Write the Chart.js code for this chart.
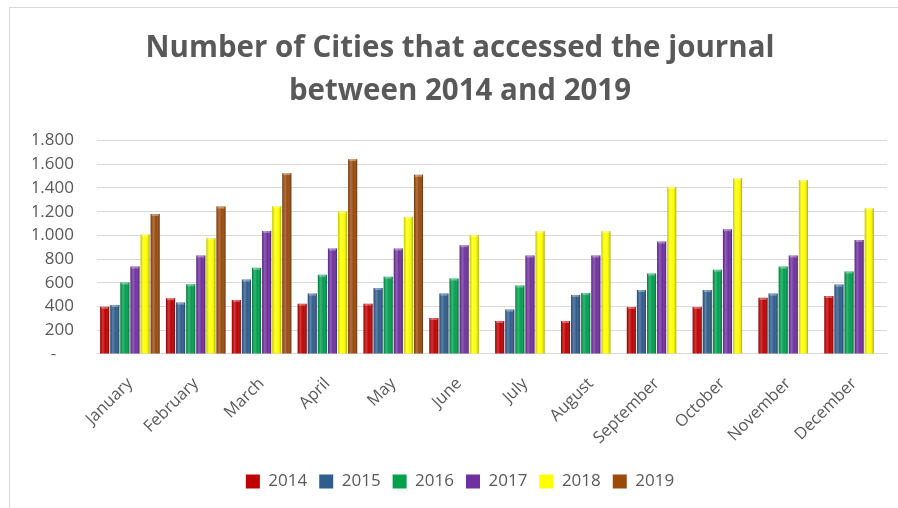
<!DOCTYPE html>
<html>
<head>
<meta charset="utf-8">
<script src="https://cdn.jsdelivr.net/npm/chart.js@4.4.0/dist/chart.umd.min.js"></script>
<style>
  html, body { margin: 0; padding: 0; background: #fff; }
  #wrap { position: relative; width: 898px; height: 508px; overflow: hidden; }
  #frame { position: absolute; left: 9px; top: 7px; width: 1000px; height: 600px;
           border-top: 1px solid #d9d9d9; border-left: 1px solid #d9d9d9; }
  canvas { position: absolute; left: 0; top: 0; }
</style>
</head>
<body>
<div id="wrap">
  <div id="frame"></div>
  <canvas id="cityChart" width="898" height="508"></canvas>
</div>
<script>
const months = ['January', 'February', 'March', 'April', 'May', 'June',
                'July', 'August', 'September', 'October', 'November', 'December'];
const years = ['2014', '2015', '2016', '2017', '2018', '2019'];

const cities2014 = [399, 470, 456, 424, 424, 304, 278, 278, 397, 397, 473, 489];
const cities2015 = [413, 433, 627, 509, 557, 509, 374, 498, 540, 540, 509, 585];
const cities2016 = [602, 588, 726, 667, 652, 636, 577, 515, 678, 711, 737, 695];
const cities2017 = [737, 830, 1038, 889, 889, 917, 830, 830, 948, 1052, 830, 962];
const cities2018 = [1007, 979, 1246, 1201, 1156, 1004, 1035, 1035, 1409, 1483, 1468, 1229];
const cities2019 = [1181, 1243, 1525, 1643, 1511, null, null, null, null, null, null, null];

const yearColors = ['#c00000', '#2f5d8e', '#00a04f', '#7030a0', '#ffff00', '#9a4a0b'];
const textGrey = '#595959';

// little bevel on each bar so it looks a bit like the excel 3d style
const bevel = {
    id: 'bevel',
    afterDatasetsDraw(chart) {
        const ctx = chart.ctx;
        chart.data.datasets.forEach((ds, di) => {
            const meta = chart.getDatasetMeta(di);
            meta.data.forEach((bar, i) => {
                if (ds.data[i] == null) return;
                const p = bar.getProps(['x', 'y', 'base', 'width'], true);
                const left = p.x - p.width / 2;
                const g = ctx.createLinearGradient(left, 0, left + p.width, 0);
                g.addColorStop(0, 'rgba(0,0,0,0.22)');
                g.addColorStop(0.3, 'rgba(255,255,255,0.22)');
                g.addColorStop(0.6, 'rgba(255,255,255,0)');
                g.addColorStop(1, 'rgba(0,0,0,0.35)');
                ctx.save();
                ctx.fillStyle = g;
                ctx.fillRect(left, p.y, p.width, p.base - p.y);
                ctx.fillStyle = 'rgba(255,255,255,0.35)';
                ctx.fillRect(left + 1, p.y, p.width - 2, 2);
                ctx.restore();
            });
        });
    }
};

const seriesData = [cities2014, cities2015, cities2016, cities2017, cities2018, cities2019];

const ctx = document.getElementById('cityChart').getContext('2d');
new Chart(ctx, {
    type: 'bar',
    data: {
        labels: months,
        datasets: years.map((y, i) => ({
            label: y,
            data: seriesData[i],
            backgroundColor: yearColors[i],
            borderWidth: 0,
            barPercentage: 0.9,
            categoryPercentage: 0.92
        }))
    },
    options: {
        responsive: false,
        animation: false,
        layout: { padding: { left: 33, right: 11, top: 0, bottom: 8 } },
        plugins: {
            title: {
                display: true,
                text: ['Number of Cities that accessed the journal', 'between 2014 and 2019'],
                color: textGrey,
                font: { family: 'Open Sans', size: 29.5, weight: 'bold', lineHeight: 1.45 },
                padding: { top: 27, bottom: 28 }
            },
            legend: {
                position: 'bottom',
                labels: {
                    color: textGrey,
                    font: { family: 'Open Sans', size: 17 },
                    boxWidth: 14,
                    boxHeight: 14,
                    padding: 12
                }
            },
            tooltip: { enabled: false }
        },
        scales: {
            x: {
                grid: { display: false },
                border: { color: '#d9d9d9' },
                afterFit: s => { s.height += 1; },
                ticks: {
                    color: textGrey,
                    font: { family: 'Open Sans', size: 16.5 },
                    maxRotation: 45,
                    minRotation: 45,
                    autoSkip: false,
                    padding: 12
                }
            },
            y: {
                min: 0,
                max: 1800,
                afterFit: s => { s.width = 64; },
                grid: { color: '#d9d9d9', drawTicks: false },
                border: { display: false },
                ticks: {
                    stepSize: 200,
                    autoSkip: false,
                    padding: 23,
                    color: textGrey,
                    font: { family: 'Open Sans', size: 17 },
                    callback: v => v === 0 ? '-    ' : String(v).replace(/\B(?=(\d{3})+(?!\d))/g, '.')
                }
            }
        }
    },
    plugins: [bevel]
});
</script>
</body>
</html>
